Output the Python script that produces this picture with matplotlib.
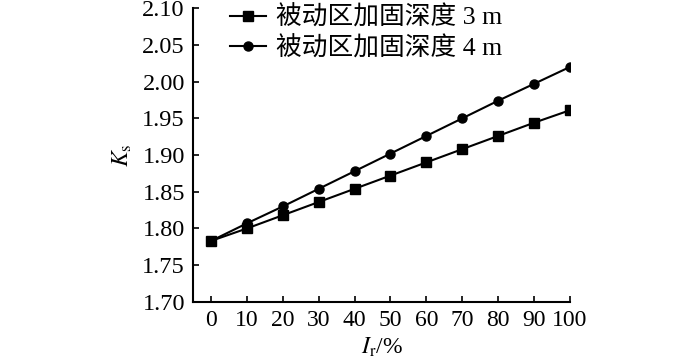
import matplotlib.pyplot as plt

plt.rcParams['font.family'] = ['Liberation Serif', 'Noto Sans CJK SC']
plt.rcParams['mathtext.fontset'] = 'stix'

ir = [0, 10, 20, 30, 40, 50, 60, 70, 80, 90, 100]
ks_3m = [1.783, 1.800, 1.818, 1.836, 1.854, 1.872, 1.890, 1.908, 1.926, 1.944, 1.961]
ks_4m = [1.783, 1.807, 1.830, 1.854, 1.878, 1.902, 1.926, 1.950, 1.974, 1.997, 2.020]
labels = ['被动区加固深度 3 m', '被动区加固深度 4 m']

fig = plt.figure(figsize=(7, 3.61), dpi=100)
ax = fig.add_axes([0.276, 0.164, 0.538, 0.813])

ax.plot(ir, ks_3m, color='black', marker='s', markersize=6.5, linewidth=1.5, label=labels[0])
ax.plot(ir, ks_4m, color='black', marker='o', markersize=6.5, linewidth=1.5, label=labels[1])

ax.set_xlim(-5, 100)
ax.set_ylim(1.70, 2.10)
ax.set_xticks(ir)
ax.set_yticks([1.70 + 0.05 * i for i in range(9)])
ax.set_yticklabels(['%.2f' % (1.70 + 0.05 * i) for i in range(9)])
ax.tick_params(direction='in', length=4, width=1.2, pad=6)
ax.tick_params(axis='x', labelsize=17)
ax.tick_params(axis='y', labelsize=17.5)
for s in ['top', 'right']:
    ax.spines[s].set_visible(False)
for s in ['left', 'bottom']:
    ax.spines[s].set_linewidth(1.5)

ax.set_xlabel('$I_\\mathrm{r}$/%', fontsize=17, labelpad=3)
ax.set_ylabel('$K_\\mathrm{s}$', fontsize=17, labelpad=6)

ax.legend(loc='upper left', bbox_to_anchor=(0.07, 1.045), frameon=False,
          fontsize=18.5, handlelength=1.4, labelspacing=0.25, handletextpad=0.4,
          borderaxespad=0)

fig.savefig('out.png', dpi=100)
